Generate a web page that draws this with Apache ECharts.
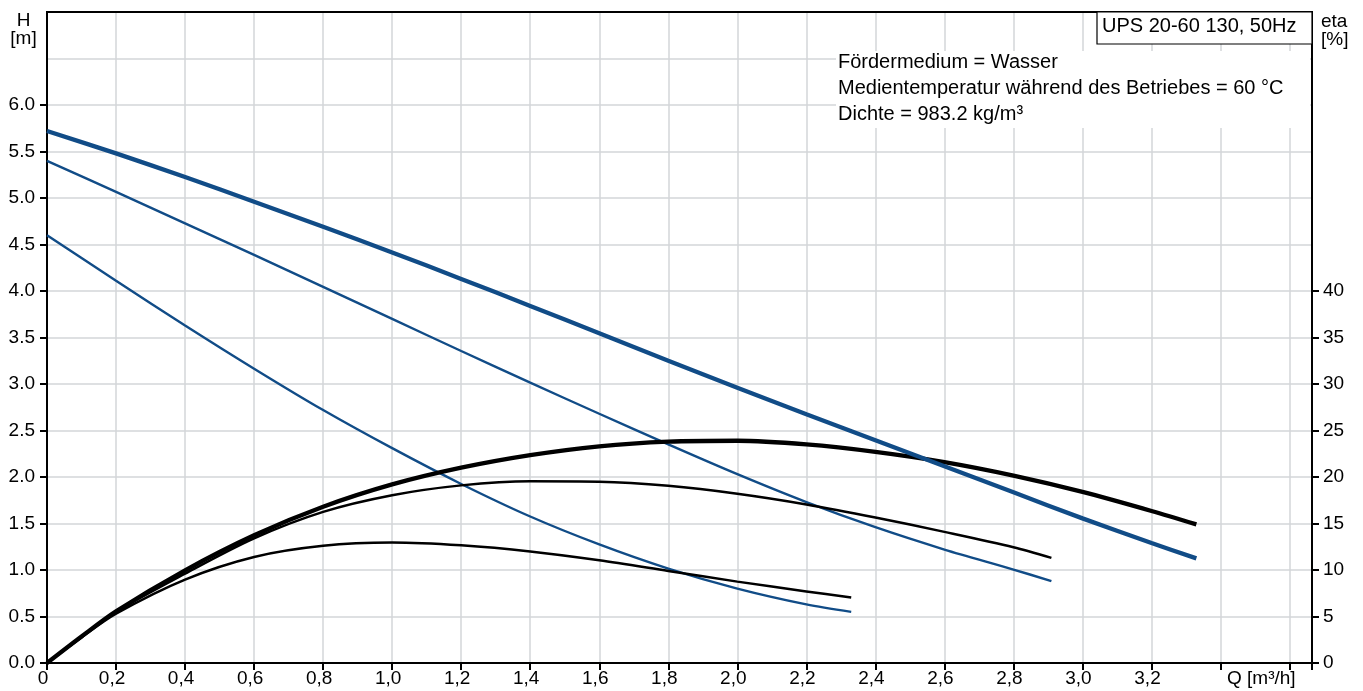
<!DOCTYPE html>
<html>
<head>
<meta charset="utf-8">
<script src="https://cdn.jsdelivr.net/npm/echarts@6/dist/echarts.min.js"></script>
<style>
  html, body { margin: 0; padding: 0; background: #fff; }
  #chart { width: 1363px; height: 691px; }
</style>
</head>
<body>
<div id="chart"></div>
<script>
// Pump curves UPS 20-60 130: flow Q [m³/h], head H [m], efficiency eta [%]

// Speed 3 (highest)
const qHead3 = [0, 0.2, 0.4, 0.6, 0.8, 1.0, 1.2, 1.4, 1.6, 1.8, 2.0, 2.2, 2.4, 2.6, 2.8, 3.0, 3.2, 3.33];
const head3  = [5.72, 5.48, 5.225, 4.96, 4.69, 4.415, 4.13, 3.84, 3.545, 3.25, 2.96, 2.675, 2.395, 2.115, 1.835, 1.555, 1.29, 1.125];
const qEta3  = [0, 0.1, 0.2, 0.4, 0.6, 0.8, 1.0, 1.2, 1.4, 1.6, 1.8, 2.0, 2.2, 2.4, 2.6, 2.8, 3.0, 3.2, 3.33];
const eta3   = [0, 2.85, 5.56, 9.97, 13.74, 16.8, 19.2, 21.0, 22.35, 23.3, 23.8, 23.9, 23.5, 22.7, 21.6, 20.15, 18.4, 16.35, 14.9];

// Speed 2
const qHead2 = [0, 0.2, 0.4, 0.6, 0.8, 1.0, 1.2, 1.4, 1.6, 1.8, 2.0, 2.2, 2.4, 2.6, 2.8, 2.91];
const head2  = [5.40, 5.065, 4.728, 4.388, 4.045, 3.70, 3.355, 3.015, 2.68, 2.35, 2.03, 1.73, 1.46, 1.22, 1.005, 0.88];
const qEta2  = [0, 0.1, 0.2, 0.4, 0.6, 0.8, 1.0, 1.2, 1.4, 1.6, 1.8, 2.0, 2.2, 2.4, 2.6, 2.8, 2.91];
const eta2   = [0, 2.8, 5.5, 9.6, 13.4, 16.25, 18.04, 19.1, 19.55, 19.5, 19.05, 18.2, 17.05, 15.65, 14.1, 12.45, 11.3];

// Speed 1 (lowest)
const qHead1 = [0, 0.2, 0.4, 0.6, 0.8, 1.0, 1.2, 1.4, 1.6, 1.8, 2.0, 2.2, 2.33];
const head1  = [4.60, 4.11, 3.63, 3.165, 2.72, 2.31, 1.925, 1.575, 1.275, 1.015, 0.80, 0.63, 0.55];
const qEta1  = [0, 0.1, 0.2, 0.4, 0.6, 0.8, 1.0, 1.2, 1.4, 1.6, 1.8, 2.0, 2.2, 2.33];
const eta1   = [0, 2.75, 5.3, 8.97, 11.4, 12.6, 12.95, 12.65, 12.0, 11.05, 9.9, 8.75, 7.7, 7.04];

// Axis tick values that carry labels
const headTicks = [0, 0.5, 1, 1.5, 2, 2.5, 3, 3.5, 4, 4.5, 5, 5.5, 6];
const etaTicks  = [0, 5, 10, 15, 20, 25, 30, 35, 40];
const flowLabelMax = 3.2;

const titleText = 'UPS 20-60 130, 50Hz';
const infoLines = ['Fördermedium = Wasser', 'Medientemperatur während des Betriebes = 60 °C', 'Dichte = 983.2 kg/m³'];

const FONT = '"Liberation Sans", Arial, Helvetica, sans-serif';
const BLUE = '#114c87';
const GRID = '#d3d6d9';

function pairs(qs, vs) { return qs.map((q, i) => [q, vs[i]]); }

function curve(name, qs, vs, axis, color, width, z) {
  return {
    name, type: 'line', yAxisIndex: axis,
    data: pairs(qs, vs),
    showSymbol: false, smooth: 0.3,
    lineStyle: { color, width, cap: 'butt' },
    emphasis: { disabled: true }, silent: true, z
  };
}

const chart = echarts.init(document.getElementById('chart'), null, { renderer: 'canvas' });

chart.setOption({
  animation: false,
  backgroundColor: '#fff',
  textStyle: { fontFamily: FONT },
  grid: { left: 47, right: 51, top: 12, bottom: 28, show: false, containLabel: false },
  xAxis: {
    type: 'value', min: 0, max: 3.665, interval: 0.2,
    axisLine: { show: true, lineStyle: { color: '#000', width: 2 } },
    axisTick: { show: true, length: 7, lineStyle: { color: '#000', width: 2 } },
    axisLabel: {
      color: '#000', fontSize: 19, fontFamily: FONT, margin: 6, padding: [0, 8, 0, 0],
      showMinLabel: true, showMaxLabel: true,
      formatter: v => (v > flowLabelMax + 0.01 ? '' : (v === 0 ? '0' : v.toFixed(1).replace('.', ',')))
    },
    splitLine: { show: true, lineStyle: { color: GRID, width: 1.5 } }
  },
  yAxis: [
    {
      type: 'value', min: 0, max: 7, interval: 0.5, position: 'left',
      axisLine: { show: true, onZero: false, lineStyle: { color: '#000', width: 2 } },
      axisTick: { show: true, length: 7, customValues: headTicks, lineStyle: { color: '#000', width: 2 } },
      axisLabel: { color: '#000', fontSize: 19, fontFamily: FONT, margin: 12, padding: [0, 0, 6, 0],
        customValues: headTicks, formatter: v => v.toFixed(1) },
      splitLine: { show: false }
    },
    {
      type: 'value', min: 0, max: 70, interval: 5, position: 'right',
      axisLine: { show: true, onZero: false, lineStyle: { color: '#000', width: 2 } },
      axisTick: { show: true, length: 7, customValues: etaTicks, lineStyle: { color: '#000', width: 2 } },
      axisLabel: { color: '#000', fontSize: 19, fontFamily: FONT, margin: 11, padding: [0, 0, 7, 0],
        customValues: etaTicks, formatter: v => String(v) },
      splitLine: { show: false }
    },
    {
      // horizontal grid lines for the head scale
      type: 'value', min: 0, max: 7, interval: 0.5, position: 'left',
      axisLine: { show: false }, axisTick: { show: false }, axisLabel: { show: false },
      splitLine: { show: true, lineStyle: { color: GRID, width: 1.5 } }
    }
  ],
  series: [
    curve('H speed 1', qHead1, head1, 0, BLUE, 2.4, 2),
    curve('H speed 2', qHead2, head2, 0, BLUE, 2.4, 2),
    curve('eta speed 1', qEta1, eta1, 1, '#000', 2.5, 3),
    curve('eta speed 2', qEta2, eta2, 1, '#000', 2.5, 3),
    curve('eta speed 3', qEta3, eta3, 1, '#000', 4.3, 4),
    curve('H speed 3', qHead3, head3, 0, BLUE, 4.3, 5)
  ],
  graphic: [
    // top frame line of the plot area
    { type: 'line', z: 49, silent: true,
      shape: { x1: 46, y1: 12, x2: 1313, y2: 12 },
      style: { stroke: '#000', lineWidth: 2 } },
    { type: 'rect', z: 50, silent: true,
      shape: { x: 836, y: 51, width: 474, height: 77 },
      style: { fill: '#fff' } },
    { type: 'text', z: 51, silent: true,
      style: { text: infoLines.join('\n'), x: 838, y: 49, fill: '#000',
        font: '20px ' + FONT, lineHeight: 26,
        align: 'left', textAlign: 'left', verticalAlign: 'top', textVerticalAlign: 'top' } },
    { type: 'rect', z: 52, silent: true,
      shape: { x: 1097, y: 12, width: 215, height: 32 },
      style: { fill: '#fff', stroke: '#000', lineWidth: 1.2 } },
    { type: 'text', z: 53, silent: true,
      style: { text: titleText, x: 1102, y: 26, fill: '#000', font: '20px ' + FONT,
        align: 'left', textAlign: 'left', verticalAlign: 'middle', textVerticalAlign: 'middle' } },
    { type: 'text', z: 53, silent: true,
      style: { text: 'H\n[m]', x: 23.5, y: 12, fill: '#000', font: '19px ' + FONT, lineHeight: 18,
        align: 'center', textAlign: 'center', verticalAlign: 'top', textVerticalAlign: 'top' } },
    { type: 'text', z: 53, silent: true,
      style: { text: 'eta\n[%]', x: 1321, y: 13, fill: '#000', font: '19px ' + FONT, lineHeight: 18,
        align: 'left', textAlign: 'left', verticalAlign: 'top', textVerticalAlign: 'top' } },
    { type: 'text', z: 53, silent: true,
      style: { text: 'Q [m³/h]', x: 1227, y: 679, fill: '#000', font: '19px ' + FONT,
        align: 'left', textAlign: 'left', verticalAlign: 'middle', textVerticalAlign: 'middle' } }
  ]
});
</script>
</body>
</html>
